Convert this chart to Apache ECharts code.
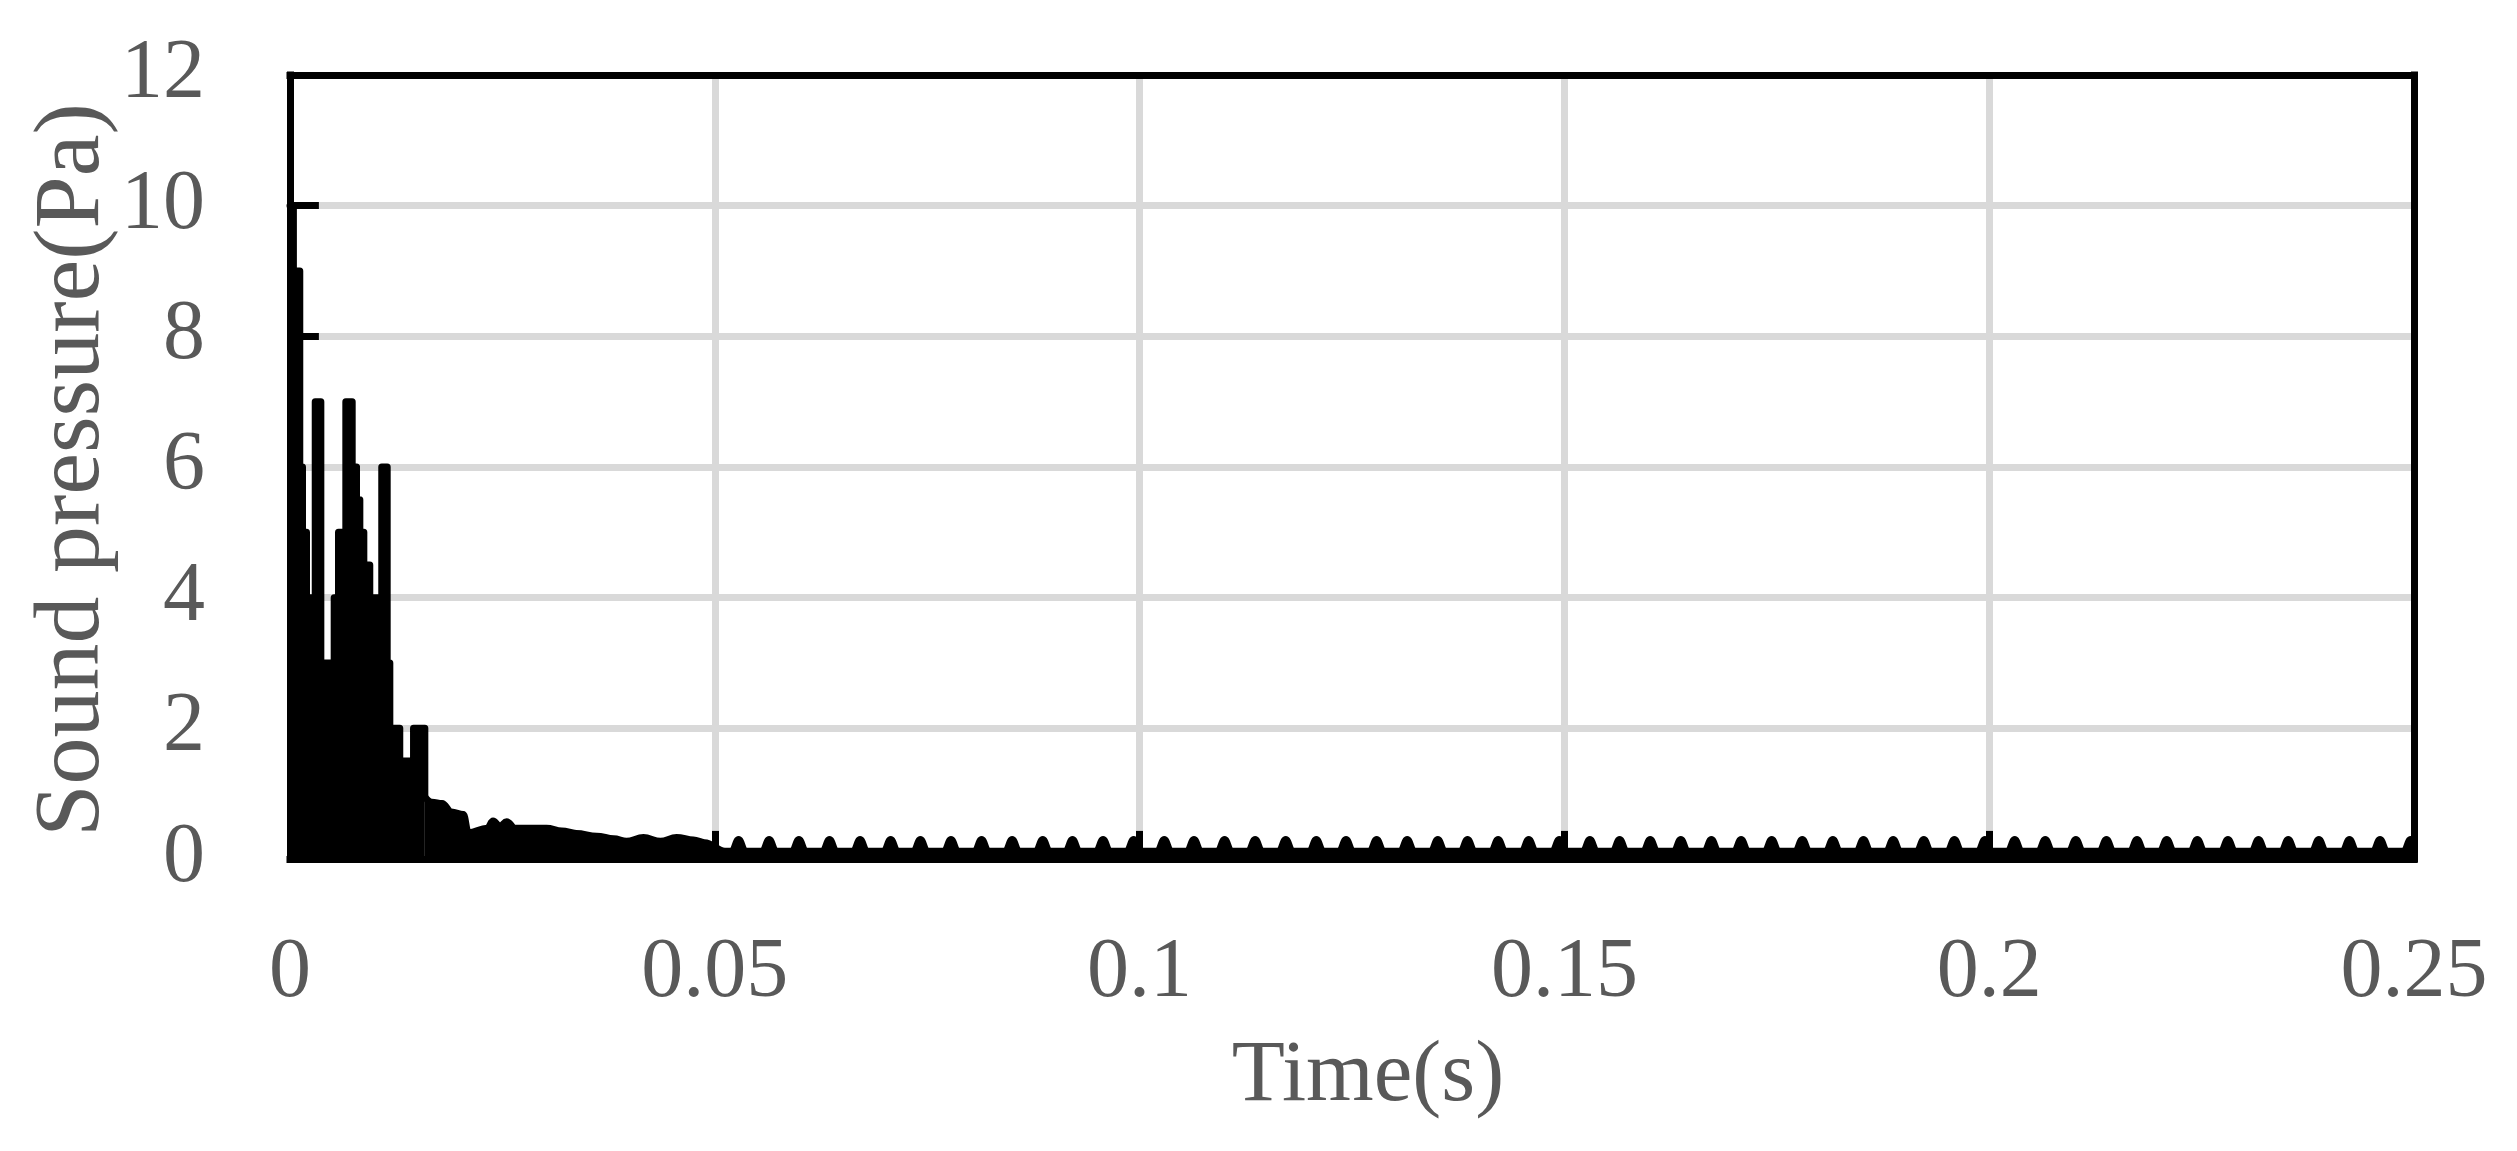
<!DOCTYPE html>
<html>
<head>
<meta charset="utf-8">
<title>Sound pressure</title>
<script src="https://cdn.jsdelivr.net/npm/echarts@6.0.0/dist/echarts.min.js"></script>
<style>
  html, body { margin: 0; padding: 0; background: #fff; }
  #main { width: 2517px; height: 1151px; }
</style>
</head>
<body>
<div id="main"></div>
<script>
// first burst, read as a step envelope (time s, pressure Pa)
var burstTime = [0, 0.0004, 0.00115, 0.00147, 0.00194, 0.00297, 0.00363, 0.0052, 0.00571, 0.00657,
    0.00732, 0.00783, 0.00822, 0.00869, 0.00939, 0.0108, 0.01144, 0.01175, 0.01292, 0.01454, 0.01587];
var burstPressure = [10, 9, 6, 5, 4, 7, 3, 4, 5, 7,
    6, 5.5, 5, 4.5, 4, 6, 3, 2, 1.5, 2, 0.95];

// decay after the burst
var decayTime = [0.01587, 0.0167, 0.0179, 0.0190, 0.0204, 0.0210, 0.0232, 0.0239, 0.0247, 0.0255,
    0.0265, 0.0286, 0.0302, 0.0320, 0.0337, 0.0361, 0.0381, 0.0396, 0.0416, 0.0436,
    0.0455, 0.0475, 0.0488, 0.0512];
var decayPressure = [0.95, 0.87, 0.85, 0.72, 0.68, 0.40, 0.47, 0.58, 0.50, 0.57,
    0.47, 0.47, 0.47, 0.43, 0.39, 0.35, 0.31, 0.27, 0.33, 0.27,
    0.33, 0.29, 0.25, 0.12];

// ripple peaks in the tail
var rippleTime = [0.0528, 0.0564, 0.0599, 0.0635, 0.0671, 0.0707, 0.0742, 0.0778, 0.0814, 0.0850,
    0.0886, 0.0921, 0.0957, 0.0993, 0.1029, 0.1064, 0.1100, 0.1136, 0.1172, 0.1208,
    0.1243, 0.1279, 0.1315, 0.1351, 0.1386, 0.1422, 0.1458, 0.1494, 0.1530, 0.1565,
    0.1601, 0.1637, 0.1673, 0.1708, 0.1744, 0.1780, 0.1816, 0.1852, 0.1887, 0.1923,
    0.1959, 0.1995, 0.2030, 0.2066, 0.2102, 0.2138, 0.2174, 0.2209, 0.2245, 0.2281,
    0.2317, 0.2352, 0.2388, 0.2424, 0.2460, 0.2496];
var ripplePeak = 0.3;
var rippleBase = 0.12;
var rippleHalf = 0.0008;

// black pieces on the gridlines
var stubLevel = [10, 8];
var stubFrom = [0, 0.0008];
var stubTo = [0.0034, 0.0034];
var spikeTime = [0.05, 0.1, 0.15, 0.2];
var spikeTop = 0.43;

var xTicks = [0, 0.05, 0.1, 0.15, 0.2, 0.25];
var yTicks = [0, 2, 4, 6, 8, 10, 12];

var fontFamily = '"Liberation Serif", "Times New Roman", serif';
var textColor = '#595959';

var burstData = burstTime.map(function (t, i) { return [t, burstPressure[i]]; });
var tailData = decayTime.map(function (t, i) { return [t, decayPressure[i]]; });
rippleTime.forEach(function (t) {
    tailData.push([t - rippleHalf, rippleBase]);
    tailData.push([t, ripplePeak]);
    tailData.push([t + rippleHalf, rippleBase]);
});
tailData.push([xTicks[xTicks.length - 1], rippleBase]);

var stubLines = [];
stubLevel.forEach(function (v, i) {
    stubLines.push([{ coord: [stubFrom[i], v] }, { coord: [stubTo[i], v] }]);
});
spikeTime.forEach(function (t) {
    stubLines.push([{ coord: [t, 0] }, { coord: [t, spikeTop] }]);
});

var chartDom = document.getElementById('main');
var myChart = echarts.init(chartDom, null, { renderer: 'canvas' });

var lineStyle = { color: '#000', width: 7, join: 'round', cap: 'round' };
var frameLine = { show: true, onZero: false, lineStyle: { color: '#000', width: 7, cap: 'square' } };
var gridLine = { show: true, showMinLine: false, showMaxLine: false, lineStyle: { color: '#d9d9d9', width: 7 } };
var labelStyle = { color: textColor, fontSize: 84, fontFamily: fontFamily, lineHeight: 84 };

var option = {
    animation: false,
    backgroundColor: '#fff',
    grid: {
        left: 290,
        right: 103,
        top: 75,
        bottom: 292,
        outerBoundsMode: 'none'
    },
    xAxis: [
        {
            type: 'value',
            position: 'bottom',
            min: xTicks[0],
            max: xTicks[xTicks.length - 1],
            interval: xTicks[1] - xTicks[0],
            name: 'Time(s)',
            nameLocation: 'middle',
            nameGap: 175,
            nameMoveOverlap: false,
            nameTextStyle: { color: textColor, fontSize: 87, fontFamily: fontFamily, lineHeight: 87, padding: [0, 0, 0, 32] },
            axisLine: frameLine,
            axisTick: { show: false },
            axisLabel: Object.assign({ margin: 73 }, labelStyle),
            splitLine: gridLine
        },
        {
            type: 'value',
            position: 'top',
            min: xTicks[0],
            max: xTicks[xTicks.length - 1],
            interval: xTicks[1] - xTicks[0],
            z: 10,
            axisLine: frameLine,
            axisTick: { show: false },
            axisLabel: { show: false },
            splitLine: { show: false }
        }
    ],
    yAxis: [
        {
            type: 'value',
            position: 'left',
            min: yTicks[0],
            max: yTicks[yTicks.length - 1],
            interval: yTicks[1] - yTicks[0],
            name: 'Sound pressure(Pa)',
            nameLocation: 'middle',
            nameGap: 170,
            nameRotate: 90,
            nameMoveOverlap: false,
            nameTextStyle: { color: textColor, fontSize: 94, fontFamily: fontFamily, lineHeight: 94, padding: [0, 6, 0, 0] },
            axisLine: frameLine,
            axisTick: { show: false },
            axisLabel: Object.assign({ margin: 85 }, labelStyle),
            splitLine: gridLine
        },
        {
            type: 'value',
            position: 'right',
            min: yTicks[0],
            max: yTicks[yTicks.length - 1],
            interval: yTicks[1] - yTicks[0],
            z: 10,
            axisLine: frameLine,
            axisTick: { show: false },
            axisLabel: { show: false },
            splitLine: { show: false }
        }
    ],
    series: [
        {
            name: 'burst',
            type: 'line',
            step: 'end',
            showSymbol: false,
            data: burstData,
            lineStyle: lineStyle,
            areaStyle: { color: '#000', opacity: 1 },
            z: 3
        },
        {
            name: 'tail',
            type: 'line',
            smooth: 0.4,
            smoothMonotone: 'x',
            showSymbol: false,
            data: tailData,
            lineStyle: lineStyle,
            areaStyle: { color: '#000', opacity: 1 },
            z: 3,
            markLine: {
                silent: true,
                symbol: ['none', 'none'],
                label: { show: false },
                lineStyle: { color: '#000', width: 7, type: 'solid', cap: 'butt' },
                data: stubLines
            }
        }
    ]
};

option && myChart.setOption(option);
</script>
</body>
</html>
